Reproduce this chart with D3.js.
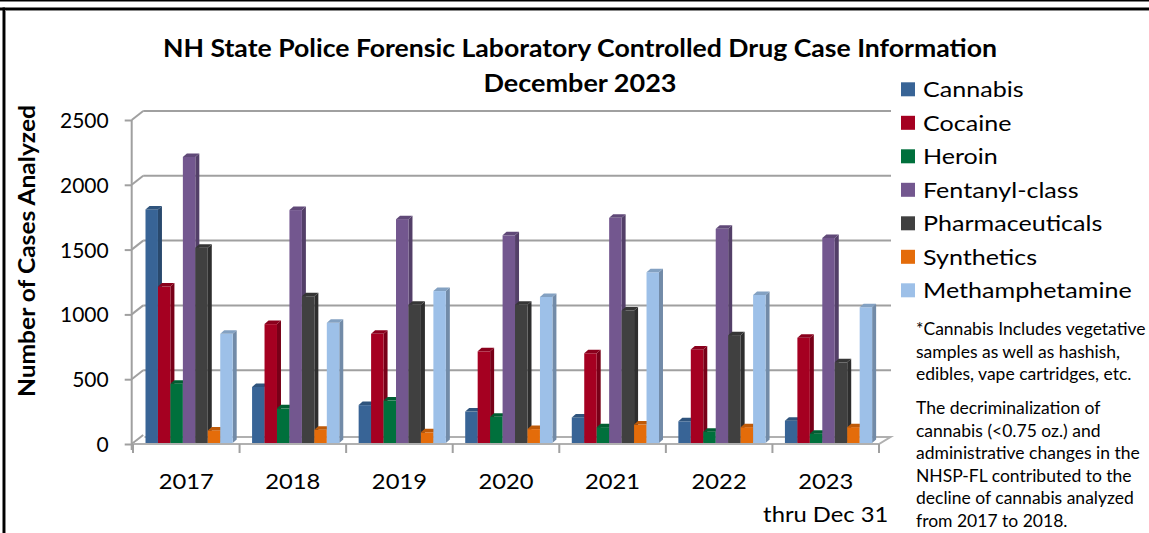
<!DOCTYPE html>
<html><head><meta charset="utf-8">
<script src="https://cdn.jsdelivr.net/npm/d3@7"></script>
<style>
body{margin:0;background:#fff;overflow:hidden;}
svg{display:block;}
text{font-family:Lato,'Open Sans',sans-serif;fill:#000;}
</style>
</head><body>
<svg id="c" width="1149" height="533"></svg>
<script>
// ---------- data ----------
const years = ["2017","2018","2019","2020","2021","2022","2023"];
const yearSub = ["","","","","","","thru Dec 31"];
const series = ["Cannabis","Cocaine","Heroin","Fentanyl-class","Pharmaceuticals","Synthetics","Methamphetamine"];
const cannabis        = [1810, 440, 300, 250, 205, 175, 180];
const cocaine         = [1215, 925, 850, 715, 700, 730, 820];
const heroin          = [465, 275, 335, 210, 130, 95, 80];
const fentanyl        = [2215, 1805, 1735, 1610, 1745, 1660, 1590];
const pharmaceuticals = [1515, 1140, 1075, 1075, 1030, 840, 630];
const synthetics      = [105, 110, 90, 115, 150, 130, 130];
const methamphetamine = [850, 935, 1180, 1135, 1325, 1150, 1055];
const values = [cannabis, cocaine, heroin, fentanyl, pharmaceuticals, synthetics, methamphetamine];
const colors = ["#386496","#A50021","#00703C","#73578F","#404040","#E46C0A","#9DC0E8"];
const yTicks = [0, 500, 1000, 1500, 2000, 2500];
const titleLines = ["NH State Police Forensic Laboratory Controlled Drug Case Information","December 2023"];
const yTitle = "Number of Cases Analyzed";
const note1 = ["*Cannabis Includes vegetative","samples as well as hashish,","edibles, vape cartridges, etc."];
const note2 = ["The decriminalization of","cannabis (<0.75 oz.) and","administrative changes in the","NHSP-FL contributed to the","decline of cannabis analyzed","from 2017  to 2018."];

// ---------- layout ----------
const svg = d3.select("#c");
const gridCol = "#A0A0A0";
const y = d3.scaleLinear().domain([0, 2500]).range([444, 120]);
const x = d3.scaleBand().domain(years).range([133, 879]);
const xs = d3.scaleBand().domain(series).range([12.5, 99.7]);
const back = {dx: 11.5, dy: -9};
const depth = {dx: 4, dy: -3.5};

// stretch text horizontally (the reference uses a narrow face, widened)
function stretch(sel, k){
  sel.each(function(){
    const w = this.getComputedTextLength();
    if (w > 0) { this.setAttribute("textLength", w * k); this.setAttribute("lengthAdjust","spacingAndGlyphs"); }
  });
}
function fitTo(sel, target){
  sel.each(function(){ this.setAttribute("textLength", target); this.setAttribute("lengthAdjust","spacingAndGlyphs"); });
}

// frame
svg.append("rect").attr("x",0).attr("y",0).attr("width",1149).attr("height",1.5).attr("fill","#000");
svg.append("rect").attr("x",0).attr("y",7.5).attr("width",1149).attr("height",2.5).attr("fill","#000");
svg.append("rect").attr("x",0).attr("y",10).attr("width",1149).attr("height",1).attr("fill","#888");
svg.append("rect").attr("x",2.5).attr("y",7.5).attr("width",2.5).attr("height",526).attr("fill","#000");
svg.append("rect").attr("x",5).attr("y",10).attr("width",1).attr("height",523).attr("fill","#888");

// back wall gridlines + side wall diagonals
const grid = svg.append("g");
yTicks.forEach(t => {
  const yy = y(t);
  if (t > 0) {
    grid.append("line").attr("x1", 131.7 + back.dx).attr("x2", 891)
      .attr("y1", yy + back.dy).attr("y2", yy + back.dy)
      .attr("stroke", gridCol).attr("stroke-width", 2);
  }
  grid.append("line").attr("x1", 131.7).attr("y1", yy)
    .attr("x2", 131.7 + back.dx).attr("y2", yy + back.dy)
    .attr("stroke", gridCol).attr("stroke-width", 2);
});
// floor
const fy = y(0);
svg.append("path")
  .attr("d", `M${x.range()[0]},${fy} L${x.range()[1]},${fy} L${x.range()[1]+back.dx},${fy+back.dy+2} L${x.range()[0]+back.dx},${fy+back.dy+2}`)
  .attr("fill","#fff").attr("stroke", "#B0B0B0").attr("stroke-width", 2);

// y axis
const yAxis = svg.append("g").attr("transform","translate(131.7,0)")
  .call(d3.axisLeft(y).tickValues(yTicks).tickSize(7).tickPadding(16).tickFormat(d3.format("d")));
yAxis.select(".domain").attr("stroke", gridCol).attr("stroke-width", 2).attr("d", `M0,${y(2500)}V${fy+6}`);
yAxis.selectAll(".tick line").attr("stroke", gridCol).attr("stroke-width", 2);
yAxis.selectAll(".tick text").attr("font-family","Lato").attr("font-size",21).attr("fill","#000").attr("dy","0.36em");

// bars
const bars = svg.append("g");
years.forEach((yr, j) => {
  series.forEach((s, i) => {
    const v = values[i][j];
    const x0 = x(yr) + xs(s), w = xs.bandwidth();
    const top = y(v), bot = fy - 1;
    const c = d3.color(colors[i]);
    bars.append("path")
      .attr("d", `M${x0+w},${top} L${x0+w+depth.dx},${top+depth.dy} L${x0+w+depth.dx},${bot+depth.dy} L${x0+w},${bot}Z`)
      .attr("fill", c.darker(0.9));
    bars.append("rect").attr("x", x0).attr("y", top).attr("width", w).attr("height", bot - top)
      .attr("fill", colors[i]);
    bars.append("path")
      .attr("d", `M${x0},${top} L${x0+depth.dx},${top+depth.dy} L${x0+w+depth.dx},${top+depth.dy} L${x0+w},${top}Z`)
      .attr("fill", c.darker(0.5));
  });
});

// x axis ticks + labels
const xt = svg.append("g");
x.domain().concat(["_end"]).forEach((d, k) => {
  const xx = k < years.length ? x(d) : x.range()[1];
  xt.append("line").attr("x1", xx).attr("x2", xx).attr("y1", fy).attr("y2", fy + 9)
    .attr("stroke", gridCol).attr("stroke-width", 2);
});
years.forEach((yr, j) => {
  const cx = x(yr) + x.bandwidth()/2;
  xt.append("text").attr("class","xl").attr("x", cx).attr("y", 489).attr("text-anchor","middle").attr("font-size", 22).text(yr);
  if (yearSub[j]) xt.append("text").attr("class","xl").attr("x", cx).attr("y", 522).attr("text-anchor","middle").attr("font-size", 22).text(yearSub[j]);
});
stretch(xt.selectAll("text.xl"), 1.08);

// title
const tl = svg.append("g").selectAll("text").data(titleLines).join("text")
  .attr("x", 580).attr("y", (d,i) => i ? 92 : 57).attr("text-anchor","middle")
  .attr("font-weight", 700).attr("font-size", 25).text(d => d);
fitTo(tl.filter((d,i) => i === 0), 834);
fitTo(tl.filter((d,i) => i === 1), 193);

// y title
const yt = svg.append("text").attr("transform","translate(35,251) rotate(-90)").attr("text-anchor","middle")
  .attr("font-weight",700).attr("font-size",22).text(yTitle);
fitTo(yt, 292);

// legend
const lg = svg.append("g");
series.forEach((s, i) => {
  const cy = 89.3 + i * 33.5;
  lg.append("rect").attr("x", 901).attr("y", cy - 7).attr("width", 14).attr("height", 14).attr("fill", colors[i]);
  lg.append("text").attr("x", 923).attr("y", cy + 7.8).attr("font-size", 22).text(s);
});
stretch(lg.selectAll("text"), 1.14);

// notes
const nt = svg.append("g");
note1.forEach((l, i) => nt.append("text").attr("x", 916).attr("y", 335 + i * 22.5).attr("font-size", 17).text(l));
note2.forEach((l, i) => nt.append("text").attr("x", 916).attr("y", 414 + i * 22.6).attr("font-size", 17).text(l));
stretch(nt.selectAll("text"), 1.03);
</script>
</body></html>
